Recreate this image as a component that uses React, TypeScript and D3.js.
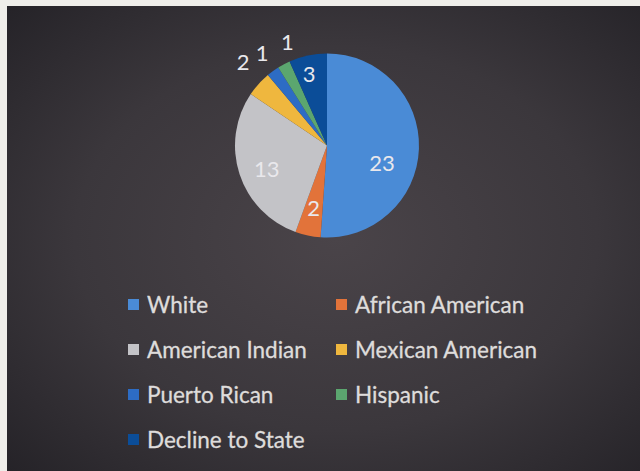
import React, { useEffect, useRef } from "react";
import * as d3 from "d3";

const categories = [
  "White",
  "African American",
  "American Indian",
  "Mexican American",
  "Puerto Rican",
  "Hispanic",
  "Decline to State",
];
const values = [23, 2, 13, 2, 1, 1, 3];
const colors = ["#4a8bd6", "#e2733a", "#c3c3c7", "#efb73e", "#2d6cc4", "#5ba66f", "#0b4d98"];

// label placement (radius as fraction of pie radius, angle nudge in degrees)
const labelPlacement: Record<string, { rf: number; da: number }> = {
  "White": { rf: 0.63, da: 16 },
  "African American": { rf: 0.7, da: 0 },
  "American Indian": { rf: 0.7, da: -3 },
  "Mexican American": { rf: 1.29, da: 3 },
  "Puerto Rican": { rf: 1.23, da: 1 },
  "Hispanic": { rf: 1.2, da: 7 },
  "Decline to State": { rf: 0.8, da: -2 },
};

const W = 640;
const H = 471;

export default function App() {
  const ref = useRef<SVGSVGElement>(null);

  useEffect(() => {
    const svg = d3.select(ref.current);
    svg.selectAll("*").remove();

    const defs = svg.append("defs");
    const rg = defs
      .append("radialGradient")
      .attr("id", "bg")
      .attr("cx", "0.52")
      .attr("cy", "0.5")
      .attr("r", "0.75");
    rg.append("stop").attr("offset", "0").attr("stop-color", "#4a4449");
    rg.append("stop").attr("offset", "0.55").attr("stop-color", "#3b373c");
    rg.append("stop").attr("offset", "1").attr("stop-color", "#232126");

    svg.append("rect").attr("width", W).attr("height", H).attr("fill", "#efeeea");
    svg
      .append("rect")
      .attr("x", 7)
      .attr("y", 6)
      .attr("width", W - 7)
      .attr("height", H - 6)
      .attr("fill", "url(#bg)");

    const cx = 327;
    const cy = 145.5;
    const r = 92;

    const data = categories.map((c, i) => ({ cat: c, value: values[i], color: colors[i] }));
    const pie = d3
      .pie<any>()
      .value((d) => d.value)
      .sort(null);
    const arcs = pie(data);
    const arc = d3.arc<any>().innerRadius(0).outerRadius(r);

    const g = svg.append("g").attr("transform", `translate(${cx},${cy})`);
    g.selectAll("path")
      .data(arcs)
      .join("path")
      .attr("d", arc)
      .attr("fill", (d) => d.data.color);

    g.selectAll("text")
      .data(arcs)
      .join("text")
      .attr("transform", (d) => {
        const p = labelPlacement[d.data.cat];
        const a = (d.startAngle + d.endAngle) / 2 + (p.da * Math.PI) / 180;
        const rr = r * p.rf;
        return `translate(${rr * Math.sin(a)},${-rr * Math.cos(a)})`;
      })
      .attr("text-anchor", "middle")
      .attr("dy", "0.36em")
      .attr("font-family", "Lato, 'Open Sans', sans-serif")
      .attr("font-size", 22)
      .attr("fill", "#e9e8ec")
      .text((d) => d.data.value);

    // legend
    const col = d3.scaleOrdinal<number, number>().domain([0, 1]).range([128, 336]);
    const row = d3.scaleLinear().domain([0, 3]).range([305, 440]);
    const lg = svg
      .append("g")
      .selectAll("g")
      .data(data)
      .join("g")
      .attr("transform", (d, i) => `translate(${col(i % 2)},${row(Math.floor(i / 2))})`);
    lg.append("rect")
      .attr("x", 0)
      .attr("y", -6)
      .attr("width", 11)
      .attr("height", 11)
      .attr("fill", (d) => d.color);
    lg.append("text")
      .attr("x", 19)
      .attr("dy", "0.36em")
      .attr("font-family", "Lato, 'Open Sans', sans-serif")
      .attr("font-size", 22.5)
      .attr("fill", "#dedcdb")
      .attr("stroke", "#dedcdb")
      .attr("stroke-width", 0.3)
      .text((d) => d.cat);
  }, []);

  return (
    <svg
      ref={ref}
      width={W}
      height={H}
      style={{ position: "absolute", left: 0, top: 0, display: "block" }}
    />
  );
}
